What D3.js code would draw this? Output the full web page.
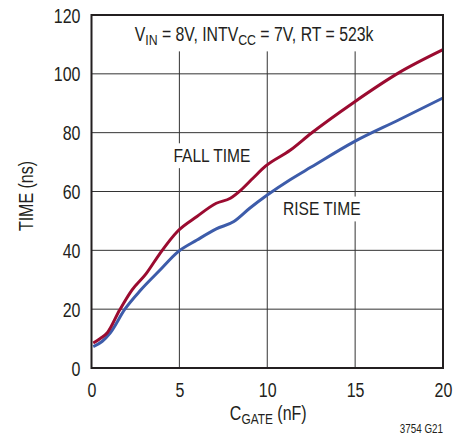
<!DOCTYPE html>
<html>
<head>
<meta charset="utf-8">
<script src="https://cdn.jsdelivr.net/npm/d3@7"></script>
<style>
  html, body { margin: 0; padding: 0; background: #fff; }
  svg text { font-family: "Liberation Sans", Arial, Helvetica, sans-serif; fill: #231f20; }
</style>
</head>
<body>
<svg id="chart" width="474" height="437"></svg>
<script>
// Gate-drive transition times vs. gate capacitance
const fallC = [0.1, 0.5, 0.9, 1.6, 2.3, 3.1, 3.9, 4.9, 6.0, 7.1, 7.9, 8.5, 9.2, 9.9, 11.3, 12.5, 14.9, 17.5, 20];
const fallTime = [8.5, 10, 12, 19.7, 26.5, 32, 39, 46.5, 51.5, 56, 57.7, 60.5, 64.6, 68.6, 74, 79.8, 90.2, 100.4, 108.2];

const riseC = [0.1, 0.6, 1.05, 1.9, 2.8, 3.9, 4.9, 6.0, 7.1, 8.1, 9.0, 10.0, 11.3, 12.5, 14.9, 17.5, 20];
const riseTime = [7.3, 9, 11.8, 20, 26.5, 33.3, 39.4, 43.5, 47.3, 49.8, 54.3, 58.8, 64, 68.3, 76.8, 84.4, 91.8];

const xTicks = [0, 5, 10, 15, 20];
const yTicks = [0, 20, 40, 60, 80, 100, 120];

// condensed lettering: horizontal squeeze of the regular sans face
const K = 0.82;

const svg = d3.select("#chart");
const margin = { left: 91.5, right: 31, top: 15, bottom: 69 };
const W = 474, H = 437;

const x = d3.scaleLinear().domain([0, 20]).range([margin.left, W - margin.right]);
const y = d3.scaleLinear().domain([0, 120]).range([H - margin.bottom, margin.top]);

function squeeze(sel, extra = "") {
  sel.each(function () {
    const t = d3.select(this);
    const tx = +t.attr("x") || 0, ty = +t.attr("y") || 0;
    t.attr("x", null).attr("y", null)
      .attr("transform", `translate(${tx},${ty})${extra} scale(${K},1)`);
  });
}

// grid
const grid = svg.append("g").attr("stroke", "#333").attr("stroke-width", 1);
grid.selectAll("line.v").data(xTicks.slice(1, -1)).join("line")
  .attr("x1", d => x(d)).attr("x2", d => x(d))
  .attr("y1", y(120)).attr("y2", y(0));
grid.selectAll("line.h").data(yTicks.slice(1, -1)).join("line")
  .attr("x1", x(0)).attr("x2", x(20))
  .attr("y1", d => y(d)).attr("y2", d => y(d));

// labels inside the plot knock out the grid behind them
const notes = svg.append("g");
function note(cx, cy, size, padX, padTop, padBot, build, topToFrame) {
  const g = notes.append("g")
    .attr("transform", `translate(${x(cx)},${y(cy)}) scale(${K},1)`);
  const bg = g.append("rect").attr("fill", "#fff");
  const t = g.append("text").attr("text-anchor", "middle").attr("font-size", size);
  build(t);
  const b = t.node().getBBox();
  const top = topToFrame ? y(120) - y(cy) : b.y - padTop;
  bg.attr("x", b.x - padX).attr("y", top)
    .attr("width", b.width + 2 * padX).attr("height", b.y + b.height + padBot - top);
}

note(6.85, 70.1, 19, 3, 1, 2, t => t.text("FALL TIME"));
note(13.1, 52, 19, 3, 1, 2, t => t.text("RISE TIME"));

// operating conditions along the top of the plot
note(9.25, 111.3, 19.3, 5, 0, 3, t => {
  t.append("tspan").text("V");
  t.append("tspan").attr("font-size", 15).attr("dy", 4.5).text("IN");
  t.append("tspan").attr("dy", -4.5).text(" = 8V, INTV");
  t.append("tspan").attr("font-size", 15).attr("dy", 4.5).text("CC");
  t.append("tspan").attr("dy", -4.5).text(" = 7V, RT = 523k");
}, true);

// curves
const line = d3.line().x(d => x(d[0])).y(d => y(d[1])).curve(d3.curveMonotoneX);
svg.append("path").datum(riseC.map((c, i) => [c, riseTime[i]]))
  .attr("d", line).attr("fill", "none").attr("stroke", "#3d5caa").attr("stroke-width", 3);
svg.append("path").datum(fallC.map((c, i) => [c, fallTime[i]]))
  .attr("d", line).attr("fill", "none").attr("stroke", "#9b0b30").attr("stroke-width", 3);

// frame
svg.append("rect").attr("x", x(0)).attr("y", y(120))
  .attr("width", x(20) - x(0)).attr("height", y(0) - y(120))
  .attr("fill", "none").attr("stroke", "#231f20").attr("stroke-width", 2);

// axes
const xAxis = svg.append("g").attr("transform", `translate(0,${y(0)})`)
  .call(d3.axisBottom(x).tickValues(xTicks).tickSize(0).tickPadding(10));
const yAxis = svg.append("g").attr("transform", `translate(${x(0)},0)`)
  .call(d3.axisLeft(y).tickValues(yTicks).tickSize(0).tickPadding(11));
[xAxis, yAxis].forEach(a => {
  a.select(".domain").remove();
  a.selectAll("text").attr("font-size", 19.5).attr("font-family", null).attr("fill", "#231f20");
});
xAxis.selectAll("text").attr("dy", "0.95em");
yAxis.selectAll("text").attr("dy", "0.36em");
squeeze(xAxis.selectAll("text"));
squeeze(yAxis.selectAll("text"));

// axis titles
const xt = svg.append("text").attr("x", x(10) + 1).attr("y", 420)
  .attr("text-anchor", "middle").attr("font-size", 19.5);
xt.append("tspan").text("C");
xt.append("tspan").attr("font-size", 14.5).attr("dy", 4).text("GATE");
xt.append("tspan").attr("dy", -4).text(" (nF)");
squeeze(xt);

const yt = svg.append("text").attr("x", 33).attr("y", 196)
  .attr("text-anchor", "middle").attr("font-size", 19.5).text("TIME (ns)");
squeeze(yt, " rotate(-90)");

const code = svg.append("text").attr("x", x(20)).attr("y", 433)
  .attr("text-anchor", "end").attr("font-size", 12).text("3754 G21");
squeeze(code);
</script>
</body>
</html>
